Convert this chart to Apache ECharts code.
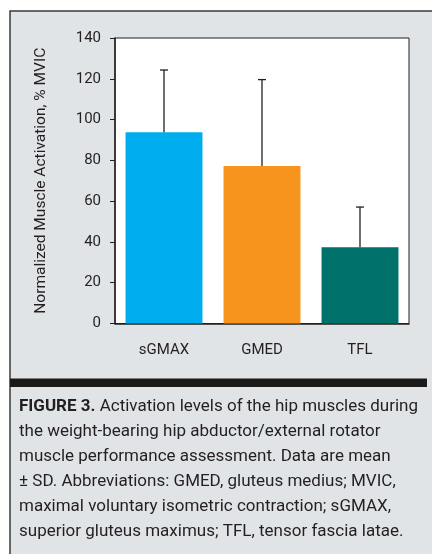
<!DOCTYPE html>
<html>
<head>
<meta charset="utf-8">
<script src="https://cdn.jsdelivr.net/npm/echarts@6/dist/echarts.min.js"></script>
<style>
  html, body { margin: 0; padding: 0; background: #fff; }
  #main { width: 432px; height: 554px; }
</style>
</head>
<body>
<div id="main"></div>
<script>
  // data
  var muscles = ['sGMAX', 'GMED', 'TFL'];
  var means = [93.8, 77.2, 37.4];
  var sds = [30.5, 42.4, 19.7];
  var barColors = ['#00AEEF', '#F7941D', '#00706B'];

  var FONT = 'Roboto, "Noto Sans", sans-serif';
  var INK = '#231f20';
  var CAP = 16.5;

  var captionLines = [
    '{b|FIGURE 3.} Activation levels of the hip muscles during',
    'the weight-bearing hip abductor/external rotator',
    'muscle performance assessment. Data are mean',
    '\u00b1 SD. Abbreviations: GMED, gluteus medius; MVIC,',
    'maximal voluntary isometric contraction; sGMAX,',
    'superior gluteus maximus; TFL, tensor fascia latae.'
  ];

  // the original uses a condensed face: squeeze caption so line 1 spans ~399px
  var ctx = document.createElement('canvas').getContext('2d');
  ctx.font = 'bold ' + CAP + 'px ' + FONT;
  var w1 = ctx.measureText('FIGURE 3.').width;
  ctx.font = CAP + 'px ' + FONT;
  w1 += ctx.measureText(' Activation levels of the hip muscles during').width;
  var squeeze = 399 / w1;

  var myChart = echarts.init(document.getElementById('main'));

  var option = {
    backgroundColor: '#fff',
    animation: false,
    graphic: [
      // grey panel
      { type: 'rect', z: -10, shape: { x: 10, y: 11, width: 430, height: 560 },
        style: { fill: '#E1E4E7', stroke: '#3a3a3a', lineWidth: 1.5 } },
      // black rule above caption
      { type: 'rect', shape: { x: 10, y: 378.5, width: 417, height: 8.5 },
        style: { fill: '#1a1a1a' } },
      { type: 'text', x: 19, y: 394, scaleX: squeeze, originX: 0, originY: 0,
        style: {
          x: 0, y: 0,
          text: captionLines.join('\n'),
          font: CAP + 'px ' + FONT,
          fill: INK,
          lineHeight: 25,
          verticalAlign: 'top',
          rich: {
            b: { fontWeight: 'bold', fontSize: CAP, fontFamily: FONT, fill: INK, lineHeight: 25 }
          }
        } }
    ],
    grid: {
      left: 115, top: 38, right: 23, bottom: 230.5,
      show: true, backgroundColor: '#fff', borderColor: INK, borderWidth: 1
    },
    xAxis: {
      type: 'category',
      data: muscles,
      axisLine: { lineStyle: { color: INK, width: 1.5 } },
      axisTick: { alignWithLabel: true, length: 5, lineStyle: { color: INK }, interval: 0 },
      axisLabel: { color: INK, fontFamily: FONT, fontSize: 15, margin: 19 }
    },
    yAxis: {
      type: 'value',
      min: 0, max: 140, interval: 20,
      name: 'Normalized Muscle Activation, % MVIC',
      nameLocation: 'middle',
      nameGap: 66,
      nameTextStyle: { color: INK, fontFamily: FONT, fontSize: 15.5 },
      splitLine: { show: false },
      axisLine: { show: true, lineStyle: { color: INK, width: 1.5 } },
      axisTick: { show: true, length: 5, lineStyle: { color: INK } },
      axisLabel: { color: INK, fontFamily: FONT, fontSize: 15, margin: 14 }
    },
    series: [
      {
        type: 'bar',
        barWidth: '78.5%',
        data: means.map(function (v, i) {
          return { value: v, itemStyle: { color: barColors[i] } };
        })
      },
      {
        type: 'custom',
        z: 3,
        data: means.map(function (v, i) { return [i, v, v + sds[i]]; }),
        renderItem: function (params, api) {
          var lo = api.coord([api.value(0), api.value(1)]);
          var hi = api.coord([api.value(0), api.value(2)]);
          var st = { stroke: INK, lineWidth: 1.3 };
          return {
            type: 'group',
            children: [
              { type: 'line', shape: { x1: lo[0], y1: lo[1], x2: hi[0], y2: hi[1] }, style: st },
              { type: 'line', shape: { x1: hi[0] - 4, y1: hi[1], x2: hi[0] + 4, y2: hi[1] }, style: st }
            ]
          };
        }
      }
    ]
  };
  myChart.setOption(option);
</script>
</body>
</html>
